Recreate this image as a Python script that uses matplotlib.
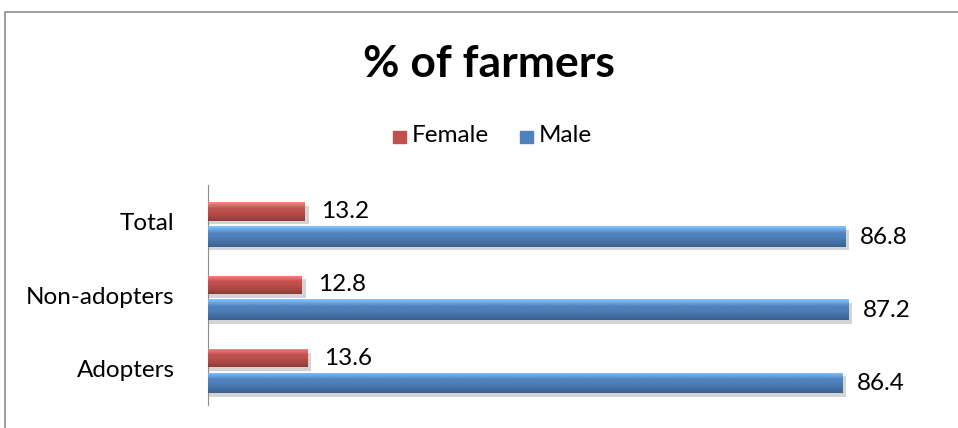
import numpy as np
import matplotlib.pyplot as plt
from matplotlib.patches import Rectangle

plt.rcParams['font.family'] = ['Lato', 'DejaVu Sans']

groups = ['Adopters', 'Non-adopters', 'Total']
female = [13.6, 12.8, 13.2]
male = [86.4, 87.2, 86.8]

red = '#C0504D'
blue = '#4F81BD'

fig = plt.figure(figsize=(9.58, 4.28), dpi=100)
W, H = 958.0, 428.0

# chart frame, runs off the right and bottom edge
fig.add_artist(Rectangle((5 / W, -0.1), 1.2, 1 - 12 / H + 0.1,
                         transform=fig.transFigure, fill=False,
                         edgecolor='#8c8c8c', linewidth=1.2))

ax = fig.add_axes([208 / W, 1 - 405 / H, 734 / W, 220 / H])
y = np.arange(len(groups))
f_off, m_off = 0.14, -0.20


def shaded_bars(ypos, vals, h, color):
    # drop shadow first, then the bar with a vertical sheen
    ax.barh(ypos - 0.05, np.array(vals) + 0.5, height=h, color='#b8b8b8',
            alpha=0.6, zorder=1)
    bars = ax.barh(ypos, vals, height=h, color=color, zorder=2)
    c = np.array(plt.matplotlib.colors.to_rgb(color))
    t = np.linspace(0, 1, 64)[:, None]
    light = np.clip(c * 1.3 + 0.12, 0, 1)
    dark = c * 0.75
    # row 0 is the top edge: light band fading into a darker base
    w = np.clip(t / 0.35, 0, 1)
    grad = light * (1 - w) + c * w
    k = np.clip((t - 0.5) / 0.5, 0, 1)
    grad = grad * (1 - k) + dark * k
    img = grad[:, None, :] * np.ones((1, 2, 1))
    for b in bars:
        x0, y0 = b.get_x(), b.get_y()
        im = ax.imshow(img, extent=(x0, x0 + b.get_width(), y0, y0 + b.get_height()),
                       aspect='auto', zorder=3, interpolation='bilinear')
        im.set_clip_path(b)
    return bars


fb = shaded_bars(y + f_off, female, 0.25, red)
mb = shaded_bars(y + m_off, male, 0.28, blue)

for yy, v in zip(y, female):
    ax.text(v + 2.2, yy + f_off, f'{v:.1f}', va='center', ha='left', fontsize=17.5)
for yy, v in zip(y, male):
    ax.text(v + 2.0, yy + m_off - 0.01, f'{v:.1f}', va='center', ha='left', fontsize=17.5)

ax.set_xlim(0, 100)
ax.set_ylim(-0.5, 2.5)
ax.set_yticks(y)
ax.set_yticklabels(groups, fontsize=17.5)
ax.tick_params(axis='y', length=0, pad=24)
ax.set_xticks([])
for s in ['top', 'right', 'bottom']:
    ax.spines[s].set_visible(False)
ax.spines['left'].set_color('#8c8c8c')

fig.text(489 / W, 1 - 64 / H, '% of farmers', ha='center', va='center',
         fontsize=32, fontweight='bold')

# legend
fig.add_artist(Rectangle((393 / W, 1 - 143 / H), 13 / W, 12 / H,
                         transform=fig.transFigure, color=red))
fig.text(412 / W, 1 - 136 / H, 'Female', va='center', fontsize=17.5)
fig.add_artist(Rectangle((520 / W, 1 - 143 / H), 13 / W, 12 / H,
                         transform=fig.transFigure, color=blue))
fig.text(539 / W, 1 - 136 / H, 'Male', va='center', fontsize=17.5)

fig.savefig('out.png', dpi=100)
